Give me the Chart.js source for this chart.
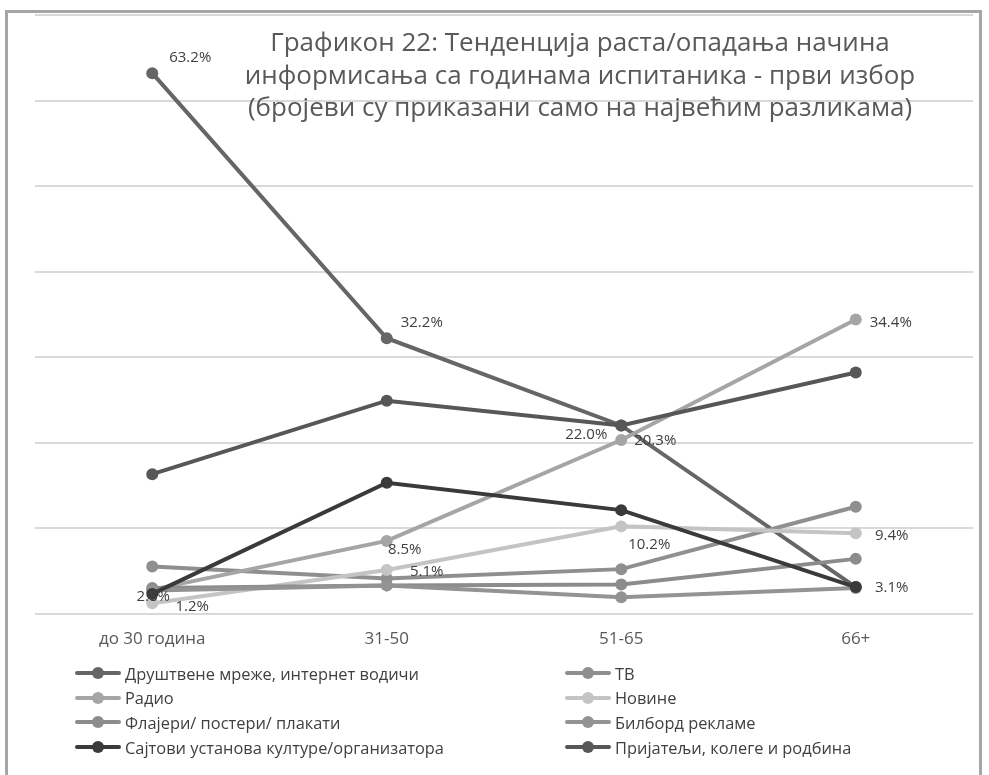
<!DOCTYPE html>
<html>
<head>
<meta charset="utf-8">
<script src="https://cdn.jsdelivr.net/npm/chart.js@4.4.1/dist/chart.umd.min.js"></script>
<style>
  html, body { margin:0; padding:0; background:#fff; }
  body { width:989px; height:775px; position:relative; overflow:hidden; font-family:"Open Sans", sans-serif; }
  #frame { position:absolute; left:5px; top:10px; width:977px; height:780px; border-left:3px solid #a6a6a6; border-top:3px solid #a6a6a6; border-right:3px solid #a6a6a6; box-sizing:border-box; pointer-events:none; }
  #wrap { position:absolute; left:0; top:0; width:989px; height:670px; }
  #title { position:absolute; left:180px; width:800px; top:25px; text-align:center; color:#595959; font-size:26px; line-height:32.5px; pointer-events:none; }
  #legend { position:absolute; left:75px; top:661px; width:900px; display:grid; grid-template-columns:490px 400px; row-gap:0; }
  .item { display:flex; align-items:center; height:24.6px; font-size:16.4px; color:#404040; white-space:nowrap; }
  .mk { position:relative; width:46px; height:14px; margin-right:4px; flex:none; }
  .mk .ln { position:absolute; left:0; right:0; top:5px; height:4px; border-radius:2px; }
  .mk .dt { position:absolute; left:17px; top:1px; width:12px; height:12px; border-radius:50%; }
</style>
</head>
<body>
<div id="wrap"><canvas id="c"></canvas></div>
<div id="title">Графикон 22: Тенденција раста/опадања начина<br>информисања са годинама испитаника - први избор<br>(бројеви су приказани само на највећим разликама)</div>
<div id="legend"></div>
<div id="frame"></div>
<script>
const categories = ["до 30 година", "31-50", "51-65", "66+"];
const seriesNames = [
  "Друштвене мреже, интернет водичи", "ТВ", "Радио", "Новине",
  "Флајери/ постери/ плакати", "Билборд рекламе",
  "Сајтови установа културе/организатора", "Пријатељи, колеге и родбина"
];
const drustveneMreze = [63.2, 32.2, 22.0, 3.1];
const tv = [5.5, 4.1, 5.2, 12.5];
const radio = [2.8, 8.5, 20.3, 34.4];
const novine = [1.2, 5.1, 10.2, 9.4];
const flajeri = [3.0, 3.3, 3.4, 6.4];
const bilbord = [2.7, 3.3, 1.9, 3.0];
const sajtovi = [2.3, 15.3, 12.1, 3.1];
const prijatelji = [16.3, 24.9, 22.0, 28.2];
const yTicks = [0, 10, 20, 30, 40, 50, 60, 70];

const seriesValues = [drustveneMreze, tv, radio, novine, flajeri, bilbord, sajtovi, prijatelji];
const seriesColors = ["#666666", "#8f8f8f", "#a5a5a5", "#c4c4c4", "#8c8c8c", "#939393", "#3a3a3a", "#575757"];

// which points carry a value label: [series index, category index, dx, dy]
const shownLabels = [
  [0, 0, 38, -15], [0, 1, 35, -16], [0, 2, -35, 9], [0, 3, 36, 1],
  [2, 0, 1, 7], [2, 1, 18, 9], [2, 2, 34, 1], [2, 3, 35, 3],
  [3, 0, 40, 3], [3, 1, 40, 2], [3, 2, 28, 18], [3, 3, 36, 3]
];

const n = seriesValues.length;
const datasets = seriesValues.map((vals, i) => ({
  label: seriesNames[i],
  data: vals,
  borderColor: seriesColors[i],
  backgroundColor: seriesColors[i],
  pointBackgroundColor: seriesColors[i],
  pointBorderColor: seriesColors[i],
  borderWidth: 4,
  pointRadius: 6,
  pointBorderWidth: 0,
  tension: 0,
  order: n - i
}));

const labelPlugin = {
  id: 'valueLabels',
  afterDatasetsDraw(chart) {
    const ctx = chart.ctx;
    ctx.save();
    ctx.font = '15px "Open Sans", sans-serif';
    ctx.fillStyle = '#404040';
    ctx.textAlign = 'center';
    ctx.textBaseline = 'middle';
    shownLabels.forEach(([s, c, dx, dy]) => {
      const pt = chart.getDatasetMeta(s).data[c];
      const v = seriesValues[s][c];
      ctx.fillText(v.toFixed(1) + '%', pt.x + dx, pt.y + dy);
    });
    ctx.restore();
  }
};

const chart = new Chart(document.getElementById('c'), {
  type: 'line',
  data: { labels: categories, datasets },
  options: {
    responsive: true,
    maintainAspectRatio: false,
    animation: false,
    layout: { padding: { left: 35, right: 16, top: 15, bottom: 6 } },
    plugins: { legend: { display: false }, title: { display: false }, tooltip: { enabled: false } },
    scales: {
      x: {
        offset: true,
        grid: { display: false, drawTicks: false },
        border: { display: false },
        ticks: { color: '#595959', font: { family: 'Open Sans', size: 17 }, padding: 15 }
      },
      y: {
        min: 0, max: 70,
        afterBuildTicks: (axis) => { axis.ticks = yTicks.map(v => ({ value: v })); },
        ticks: { display: false },
        grid: { color: '#d9d9d9', lineWidth: 2, drawTicks: false },
        border: { display: false }
      }
    }
  },
  plugins: [labelPlugin]
});

const legend = document.getElementById('legend');
chart.data.datasets.forEach(ds => {
  const it = document.createElement('div');
  it.className = 'item';
  it.innerHTML = '<span class="mk"><span class="ln" style="background:' + ds.borderColor + '"></span><span class="dt" style="background:' + ds.borderColor + '"></span></span><span></span>';
  it.lastChild.textContent = ds.label;
  legend.appendChild(it);
});
</script>
</body>
</html>
